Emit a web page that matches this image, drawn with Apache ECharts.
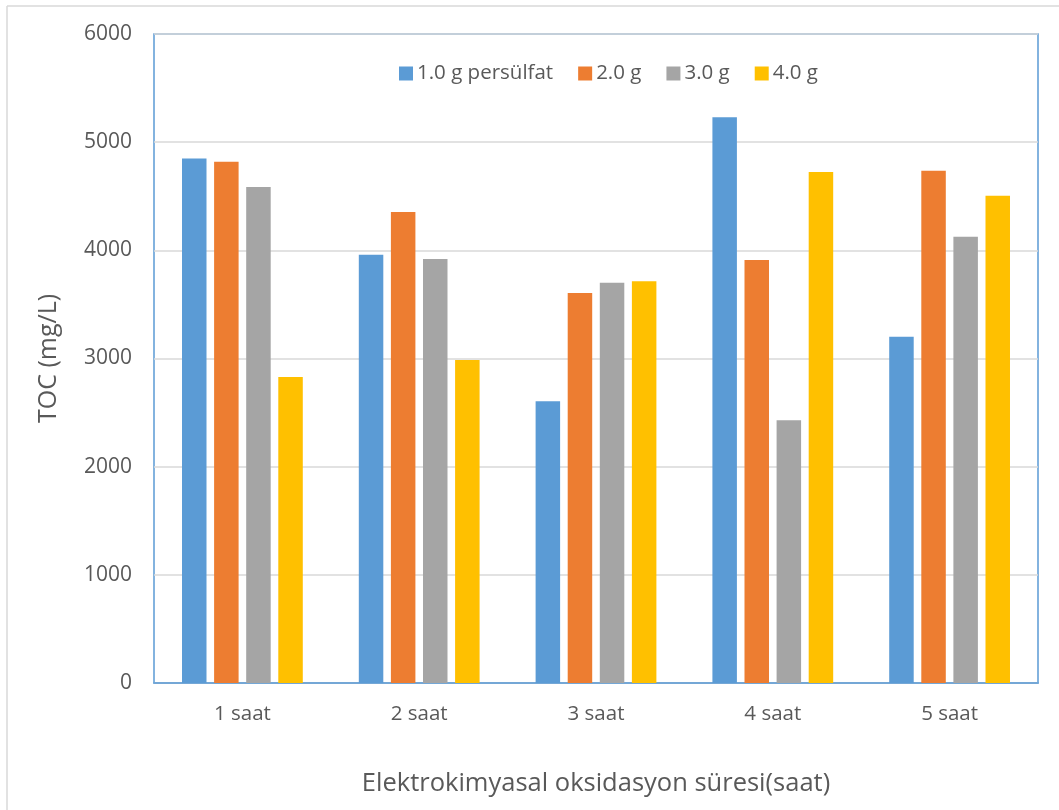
<!DOCTYPE html>
<html>
<head>
<meta charset="utf-8">
<script src="https://cdn.jsdelivr.net/npm/echarts@6/dist/echarts.min.js"></script>
<style>
  html, body { margin: 0; padding: 0; background: #ffffff; }
  #chart { width: 1059px; height: 810px; }
</style>
</head>
<body>
<div id="chart"></div>
<script>
// Categories (electrochemical oxidation time) and TOC values per persulfate dose
const categories = ['1 saat', '2 saat', '3 saat', '4 saat', '5 saat'];
const seriesNames = ['1.0 g persülfat', '2.0 g', '3.0 g', '4.0 g'];
const dose1 = [4850, 3960, 2605, 5230, 3200];
const dose2 = [4820, 4355, 3605, 3910, 4735];
const dose3 = [4585, 3920, 3700, 2430, 4125];
const dose4 = [2830, 2985, 3715, 4725, 4505];
const colors = ['#5b9bd5', '#ed7d31', '#a5a5a5', '#ffc000'];

const FONT = 'Open Sans';
const TEXT = '#595959';

const chart = echarts.init(document.getElementById('chart'), null, { renderer: 'canvas' });

const dataSets = [dose1, dose2, dose3, dose4];
const series = dataSets.map((d, i) => ({
  name: seriesNames[i],
  type: 'bar',
  data: d,
  barWidth: 24.5,
  barGap: '31%',
  itemStyle: { color: colors[i] }
}));

chart.setOption({
  animation: false,
  backgroundColor: '#ffffff',
  textStyle: { fontFamily: FONT, color: TEXT },
  graphic: [
    { type: 'line', shape: { x1: 7, y1: 6, x2: 1059, y2: 6 }, style: { stroke: '#d9d9d9', lineWidth: 1.5 } },
    { type: 'line', shape: { x1: 7, y1: 6, x2: 7, y2: 810 }, style: { stroke: '#d9d9d9', lineWidth: 1.5 } }
  ],
  legend: {
    top: 58,
    left: 394,
    itemWidth: 14,
    itemHeight: 14,
    itemGap: 25,
    icon: 'rect',
    textStyle: { fontFamily: FONT, fontSize: 20.5, color: TEXT, padding: [0, 0, 0, -1] },
    data: seriesNames
  },
  grid: {
    left: 154, right: 21, top: 34, bottom: 127,
    show: true,
    borderColor: '#5b9bd5',
    borderWidth: 1.5,
    containLabel: false
  },
  xAxis: {
    type: 'category',
    data: categories,
    name: 'Elektrokimyasal oksidasyon süresi(saat)',
    nameLocation: 'middle',
    nameGap: 88,
    nameTextStyle: { fontFamily: FONT, fontSize: 25.5, color: TEXT },
    axisLine: { show: true, lineStyle: { color: '#5b9bd5', width: 1.5 } },
    axisTick: { show: false },
    axisLabel: { fontFamily: FONT, fontSize: 20.5, color: TEXT, margin: 21 }
  },
  yAxis: {
    type: 'value',
    min: 0, max: 6000, interval: 1000,
    name: 'TOC (mg/L)',
    nameLocation: 'middle',
    nameGap: 93,
    nameRotate: 90,
    nameTextStyle: { fontFamily: FONT, fontSize: 25, color: TEXT },
    axisLine: { show: false },
    axisTick: { show: false },
    axisLabel: { fontFamily: FONT, fontSize: 21, color: TEXT, margin: 22, formatter: (v) => String(v) },
    splitLine: { lineStyle: { color: '#d9d9d9', width: 1.5 } }
  },
  series: series
});
</script>
</body>
</html>
